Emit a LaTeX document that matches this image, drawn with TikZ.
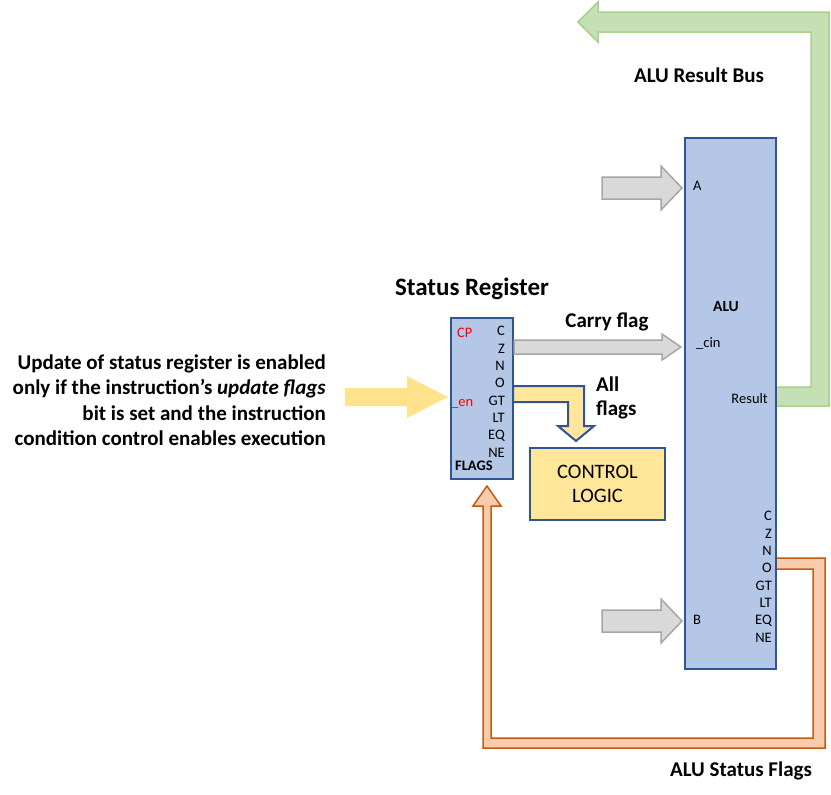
\documentclass[tikz,border=0pt]{standalone}
\usepackage{fontspec}
\setmainfont{Carlito}
\definecolor{boxblue}{HTML}{B4C7E7}
\definecolor{edgeblue}{HTML}{2F5597}
\definecolor{ctlyellow}{HTML}{FFE699}
\definecolor{enyellow}{HTML}{FFE28C}
\definecolor{arrgray}{HTML}{D9D9D9}
\definecolor{arrgrayedge}{HTML}{A6A6A6}
\definecolor{busgreen}{HTML}{C5E0B4}
\definecolor{busgreenedge}{HTML}{A9D18E}
\definecolor{flagorange}{HTML}{F8CBAD}
\definecolor{flagorangeedge}{HTML}{C55A11}
\definecolor{enred}{HTML}{FF0000}
\tikzset{
  blockbox/.style={draw=edgeblue, line width=2pt, fill=boxblue},
  ctlbox/.style={draw=edgeblue, line width=2pt, fill=ctlyellow},
  grayarrow/.style={draw=arrgrayedge, line width=1.5pt, fill=arrgray, line join=miter},
  lbl/.style={inner sep=0pt, font=\fontsize{14.5}{16}\selectfont},
  boldlbl/.style={inner sep=0pt, font=\fontsize{21}{24}\selectfont\bfseries},
}
\begin{document}
\begin{tikzpicture}[x=1pt,y=-1pt]
\useasboundingbox (0,0) rectangle (831,795);

% result bus (green)
\draw[draw=busgreenedge, fill=busgreen, line width=1.5pt, line join=miter]
  (776,387) -- (811,387) -- (811,32) -- (598,32) -- (598,42) -- (578,22) -- (598,2) -- (598,12) -- (829,12) -- (829,406) -- (776,406) -- cycle;

% status flags (orange)
\draw[draw=flagorangeedge, fill=flagorange, line width=1.5pt, line join=miter]
  (776,558) -- (825,558) -- (825,748) -- (483,748) -- (483,506) -- (473,506) -- (487,486) -- (501,506) -- (491,506) -- (491,738) -- (813,738) -- (813,569) -- (776,569) -- cycle;

% ALU box
\node[blockbox, minimum width=91pt, minimum height=531pt, anchor=north west, inner sep=0pt] (alu) at (684,137) {};
% status register
\node[blockbox, minimum width=62pt, minimum height=161pt, anchor=north west, inner sep=0pt] (sr) at (450,317) {};
% control logic
\node[ctlbox, minimum width=135pt, minimum height=72pt, anchor=north west, inner sep=0pt, align=center,
      font=\fontsize{20.5}{24}\selectfont] (ctl) at (529,447) {CONTROL\\LOGIC};

% gray arrows A, B, carry
\draw[grayarrow] (602,177) -- (661,177) -- (661,166) -- (682,188) -- (661,210) -- (661,199) -- (602,199) -- cycle;
\draw[grayarrow] (602,610) -- (661,610) -- (661,599) -- (682,621) -- (661,643) -- (661,632) -- (602,632) -- cycle;
\draw[grayarrow] (514,340) -- (662,340) -- (662,334) -- (681,347) -- (662,360) -- (662,354) -- (514,354) -- cycle;

% enable arrow (yellow)
\fill[enyellow] (345,388) -- (407,388) -- (407,376) -- (448,397) -- (407,418) -- (407,406) -- (345,406) -- cycle;

% all flags bent arrow
\draw[draw=edgeblue, fill=ctlyellow, line width=2pt, line join=miter]
  (513,386) -- (584,386) -- (584,426) -- (594,426) -- (576,441) -- (558,426) -- (568,426) -- (568,402) -- (513,402) -- cycle;

% titles and labels
\node[inner sep=0pt, font=\fontsize{25}{28}\selectfont\bfseries] (srt) at (472,289) {Status Register};
\node[boldlbl] (rbus) at (699,75) {ALU Result Bus};
\node[boldlbl] (cflag) at (607,322) {Carry flag};
\node[boldlbl, anchor=north west, align=left, font=\fontsize{21}{24}\selectfont\bfseries] (allf) at (596,377) {All\\flags};
\node[boldlbl] (asf) at (741,771) {ALU Status Flags};

\node[anchor=east, inner sep=0pt, align=right, font=\fontsize{21}{25.5}\selectfont\bfseries] (note) at (326,400)
  {Update of status register is enabled\\only if the instruction’s \textit{update flags}\\bit is set and the instruction\\condition control enables execution};

% ALU labels
\node[lbl, font=\fontsize{15.5}{17}\selectfont\bfseries] (alut) at (726,307) {ALU};
\node[lbl, anchor=west] (la) at (693,186) {A};
\node[lbl, anchor=west] (lb) at (693,620) {B};
\node[lbl, anchor=west] (lcin) at (696,343) {\_cin};
\node[lbl, anchor=east] (lres) at (768,399) {Result};
\foreach \t [count=\i from 0] in {C,Z,N,O,GT,LT,EQ,NE} {
  \node[lbl, anchor=east] (af\i) at (772,{516+17.4*\i}) {\t};
}

% status register labels
\foreach \t [count=\i from 0] in {C,Z,N,O,GT,LT,EQ,NE} {
  \node[lbl, anchor=east] (sf\i) at (505,{331+17.4*\i}) {\t};
}
\node[lbl, anchor=west, text=enred] (cp) at (457,333) {CP};
\node[lbl, anchor=west, text=enred] (en) at (451,404) {\_en};
\node[lbl, anchor=west, font=\fontsize{14.5}{16}\selectfont\bfseries] (flg) at (455,466) {FLAGS};
\end{tikzpicture}
\end{document}
